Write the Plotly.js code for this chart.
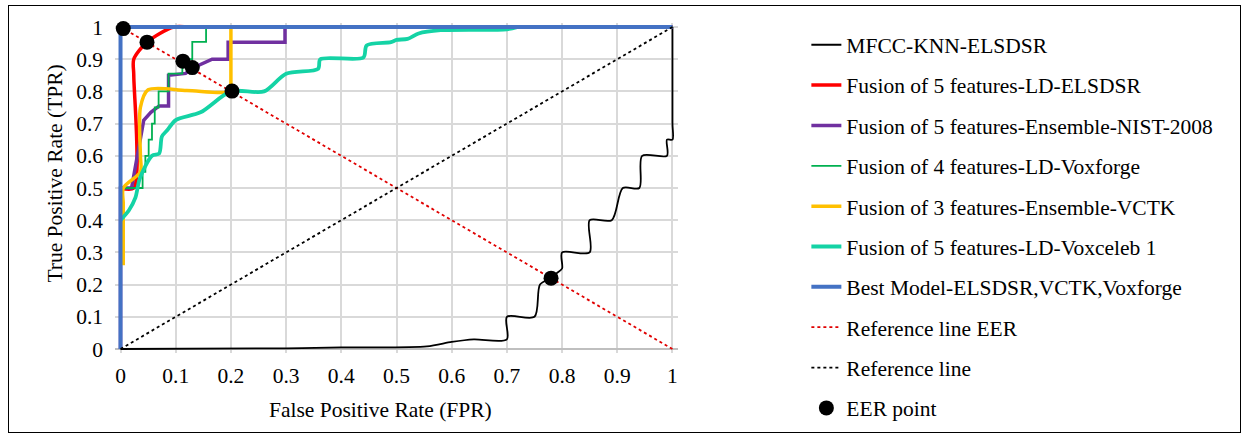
<!DOCTYPE html>
<html>
<head>
<meta charset="utf-8">
<script src="https://cdn.plot.ly/plotly-3.0.1.min.js"></script>
<style>
  html, body { margin: 0; padding: 0; background: #fff; }
  #wrap { position: relative; width: 1247px; height: 438px; }
  #chart { width: 1247px; height: 438px; }
  #frame { position: absolute; left: 8px; top: 5px; width: 1231px; height: 426px; border: 1px solid #000; pointer-events: none; }
</style>
</head>
<body>
<div id="wrap"><div id="chart"></div><div id="frame"></div></div>
<script>
// ---- data ----
const seriesNames = [
  "MFCC-KNN-ELSDSR",
  "Fusion of 5 features-LD-ELSDSR",
  "Fusion of 5 features-Ensemble-NIST-2008",
  "Fusion of 4 features-LD-Voxforge",
  "Fusion of 3 features-Ensemble-VCTK",
  "Fusion of 5 features-LD-Voxceleb 1",
  "Best Model-ELSDSR,VCTK,Voxforge",
  "Reference line EER",
  "Reference line",
  "EER point"
];
const xTitle = "False Positive Rate (FPR)";
const yTitle = "True Positive Rate (TPR)";

const mfccFpr = [0, 0.30, 0.40, 0.555, 0.60, 0.64, 0.70, 0.70, 0.75, 0.76, 0.78, 0.79, 0.80, 0.80, 0.85, 0.85, 0.89, 0.91, 0.94, 0.945, 0.99, 0.99, 1.0, 1.0, 1.0, 1.0];
const mfccTpr = [0, 0.002, 0.005, 0.008, 0.022, 0.03, 0.03, 0.10, 0.10, 0.20, 0.22, 0.235, 0.25, 0.30, 0.30, 0.40, 0.40, 0.50, 0.50, 0.60, 0.60, 0.65, 0.65, 0.70, 0.95, 1.0];

const redFpr = [0, 0.024, 0.024, 0.024, 0.048, 0.096, 0.13, 1];
const redTpr = [0.5, 0.5, 0.85, 0.9, 0.953, 1, 1, 1];

const purpleFpr = [0, 0, 0.02, 0.03, 0.042, 0.055, 0.07, 0.087, 0.087, 0.118, 0.13, 0.166, 0.195, 0.195, 0.298, 0.298, 1];
const purpleTpr = [0, 0.5, 0.5, 0.6, 0.71, 0.735, 0.755, 0.755, 0.85, 0.856, 0.872, 0.9, 0.9, 0.953, 0.953, 1, 1];

const greenFpr = [0, 0, 0.04, 0.04, 0.045, 0.045, 0.051, 0.051, 0.057, 0.057, 0.062, 0.062, 0.069, 0.069, 0.087, 0.087, 0.112, 0.112, 0.13, 0.13, 0.155, 0.155, 1];
const greenTpr = [0, 0.5, 0.5, 0.55, 0.55, 0.6, 0.6, 0.65, 0.65, 0.7, 0.7, 0.75, 0.75, 0.8, 0.8, 0.855, 0.855, 0.9, 0.9, 0.954, 0.954, 1, 1];

const yellowFpr = [0.005, 0.005, 0.005, 0.036, 0.036, 0.036, 0.05, 0.12, 0.2, 0.2, 0.2, 0.2];
const yellowTpr = [0.26, 0.45, 0.5, 0.55, 0.6, 0.75, 0.805, 0.803, 0.8, 0.82, 0.98, 1];

const tealFpr = [0, 0.015, 0.027, 0.035, 0.057, 0.07, 0.075, 0.085, 0.1, 0.145, 0.2, 0.26, 0.3, 0.358, 0.362, 0.44, 0.446, 0.49, 0.5, 0.52, 0.54, 0.58, 0.7, 0.72];
const tealTpr = [0.4, 0.43, 0.47, 0.53, 0.6, 0.607, 0.66, 0.68, 0.711, 0.735, 0.8, 0.8, 0.855, 0.87, 0.9, 0.905, 0.943, 0.953, 0.96, 0.963, 0.98, 0.99, 0.993, 1];

const bestFpr = [0, 0, 1];
const bestTpr = [0, 1, 1];

const refEerFpr = [0, 1];
const refEerTpr = [1, 0];

const refFpr = [0, 1];
const refTpr = [0, 1];

const eerFpr = [0.005, 0.048, 0.113, 0.13, 0.202, 0.78];
const eerTpr = [0.995, 0.953, 0.894, 0.874, 0.801, 0.22];

const tickVals = [0, 0.1, 0.2, 0.3, 0.4, 0.5, 0.6, 0.7, 0.8, 0.9, 1];
const tickText = ["0", "0.1", "0.2", "0.3", "0.4", "0.5", "0.6", "0.7", "0.8", "0.9", "1"];

// ---- traces ----
function line(name, x, y, color, width, shape, dash, group) {
  return {
    type: 'scatter', mode: 'lines', name: name, x: x, y: y,
    legendgroup: group,
    line: { color: color, width: width, shape: shape || 'linear', smoothing: 0.8, dash: dash || 'solid' },
    hoverinfo: 'skip'
  };
}

const traces = [
  line(seriesNames[0], mfccFpr, mfccTpr, '#000000', 1.8, 'spline', null, 'g0'),
  line(seriesNames[1], redFpr, redTpr, '#FF0000', 3.5, 'spline', null, 'g1'),
  line(seriesNames[2], purpleFpr, purpleTpr, '#7030A0', 3.5, 'linear', null, 'g2'),
  line(seriesNames[3], greenFpr, greenTpr, '#00B050', 1.8, 'linear', null, 'g3'),
  line(seriesNames[4], yellowFpr, yellowTpr, '#FFC000', 3.5, 'spline', null, 'g4'),
  line(seriesNames[5], tealFpr, tealTpr, '#14D3A5', 3.8, 'spline', null, 'g5'),
  line(seriesNames[6], bestFpr, bestTpr, '#4472C4', 4, 'linear', null, 'g6'),
  line(seriesNames[7], refEerFpr, refEerTpr, '#E00000', 1.8, 'linear', 'dot', 'g7'),
  line(seriesNames[8], refFpr, refTpr, '#000000', 1.8, 'linear', 'dot', 'g8'),
  {
    type: 'scatter', mode: 'markers', name: seriesNames[9], x: eerFpr, y: eerTpr,
    legendgroup: 'g9', cliponaxis: false,
    marker: { color: '#000000', size: 15, symbol: 'circle' },
    hoverinfo: 'skip'
  }
];

const font = 'Liberation Serif, Times New Roman, serif';
const fs = 21.5;

// plot region: paper spans y 5..433 px; axis placed by domain
const layout = {
  width: 1247, height: 438,
  margin: { l: 114.5, r: 568.5, t: 5, b: 5, pad: 0 },
  paper_bgcolor: '#ffffff', plot_bgcolor: '#ffffff',
  font: { family: font, size: fs, color: '#000000' },
  showlegend: true,
  legend: {
    x: 1.228, xanchor: 'left', y: 0.955, yanchor: 'top',
    font: { family: font, size: fs, color: '#000000' },
    tracegroupgap: 9.4, traceorder: 'grouped',
    bgcolor: 'rgba(0,0,0,0)', borderwidth: 0
  },
  xaxis: {
    range: [-0.01, 1.01],
    tickmode: 'array', tickvals: tickVals, ticktext: tickText,
    showgrid: true, gridcolor: '#D9D9D9', gridwidth: 2,
    zeroline: false, showline: false, ticks: '',
    ticklabelstandoff: 8,
    tickfont: { family: font, size: fs, color: '#000000' },
    fixedrange: true
  },
  yaxis: {
    range: [-0.012, 1.012],
    domain: [0.18724, 0.95762],
    tickmode: 'array', tickvals: tickVals, ticktext: tickText,
    showgrid: true, gridcolor: '#D9D9D9', gridwidth: 2,
    zeroline: true, zerolinecolor: '#BFBFBF', zerolinewidth: 2,
    showline: false, ticks: '',
    ticklabelstandoff: 11,
    tickfont: { family: font, size: fs, color: '#000000' },
    fixedrange: true
  },
  annotations: [
    { text: xTitle, xref: 'paper', yref: 'paper', x: 0.4707, y: 0.0537,
      xanchor: 'center', yanchor: 'middle', showarrow: false,
      font: { family: font, size: fs, color: '#000000' } },
    { text: yTitle, xref: 'paper', yref: 'paper', x: -0.1073, y: 0.6051,
      xanchor: 'center', yanchor: 'middle', showarrow: false, textangle: -90,
      font: { family: font, size: fs, color: '#000000' } }
  ]
};

Plotly.newPlot('chart', traces, layout, { displayModeBar: false, staticPlot: true });
</script>
</body>
</html>
